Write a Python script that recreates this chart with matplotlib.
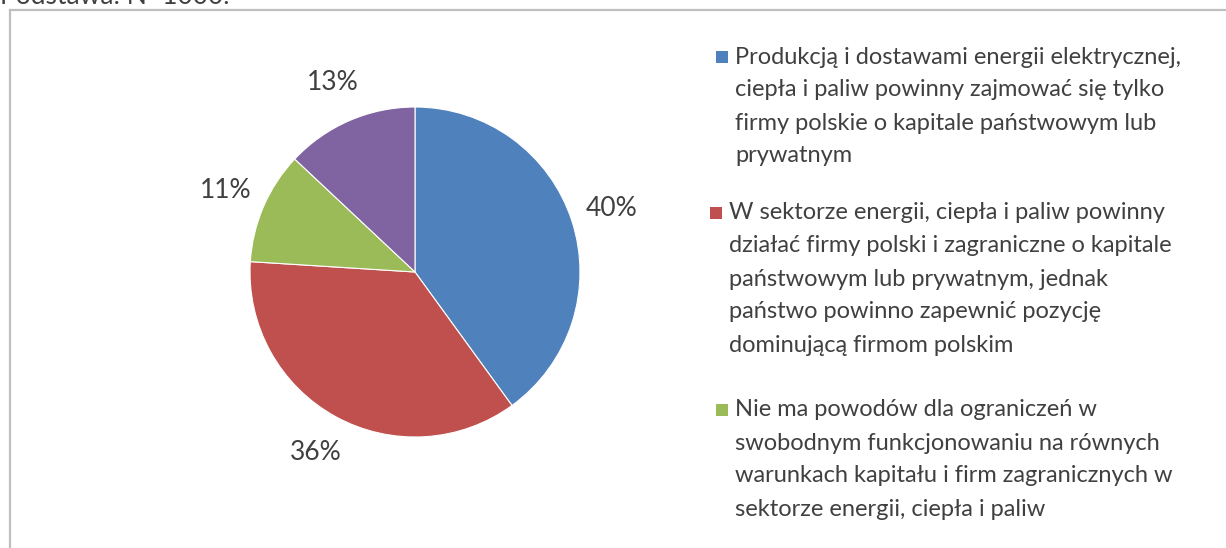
import matplotlib.pyplot as plt
from matplotlib.patches import Rectangle

# data
categories = [
    "Produkcją i dostawami energii elektrycznej,\nciepła i paliw powinny zajmować się tylko\nfirmy polskie o kapitale państwowym lub\nprywatnym",
    "W sektorze energii, ciepła i paliw powinny\ndziałać firmy polski i zagraniczne o kapitale\npaństwowym lub prywatnym, jednak\npaństwo powinno zapewnić pozycję\ndominującą firmom polskim",
    "Nie ma powodów dla ograniczeń w\nswobodnym funkcjonowaniu na równych\nwarunkach kapitału i firm zagranicznych w\nsektorze energii, ciepła i paliw",
    "Trudno powiedzieć",
]
shares = [40, 36, 11, 13]
colors = ["#4F81BD", "#C0504D", "#9BBB59", "#8064A2"]
header = "Podstawa: N=1000."

W, H = 1226, 548
TEXT = "#404040"
plt.rcParams["font.family"] = ["Lato", "DejaVu Sans"]

fig = plt.figure(figsize=(W / 100, H / 100), dpi=100)
fig.patch.set_facecolor("white")

# frame (right and bottom sides run off the picture)
fig.patches.append(Rectangle((10 / W, -0.05), 1.1, (H - 10) / H + 0.05,
                             transform=fig.transFigure, fill=False,
                             edgecolor="#BFBFBF", linewidth=1.6))

# header, cut off at the top as in the source
fig.text(0.0, 1 - 4 / H, header, fontsize=19, color=TEXT, va="baseline", ha="left")

# pie
cx, cy, r = 415, 272, 165
ax = fig.add_axes([(cx - r) / W, (H - cy - r) / H, 2 * r / W, 2 * r / H])
ax.pie(shares, colors=colors, startangle=90, counterclock=False,
       autopct="%d%%", pctdistance=1.25,
       wedgeprops=dict(edgecolor="white", linewidth=0.8),
       textprops=dict(fontsize=19, color=TEXT))
ax.set_xlim(-1, 1)
ax.set_ylim(-1, 1)
ax.set_aspect("equal")
ax.axis("off")

# legend (only the first three entries are visible)
starts = [57, 213, 410]
lefts = [716, 710, 716]
step = 33
for label, color, y0, x0 in zip(categories[:3], colors[:3], starts, lefts):
    fig.patches.append(Rectangle((x0 / W, 1 - (y0 + 6) / H), 12 / W, 12 / H,
                                 transform=fig.transFigure, facecolor=color,
                                 edgecolor="none"))
    for k, line in enumerate(label.split("\n")):
        fig.text((x0 + 19) / W, 1 - (y0 + k * step) / H, line, fontsize=17,
                 color=TEXT, va="center", ha="left")

fig.savefig("out.png", dpi=100)
